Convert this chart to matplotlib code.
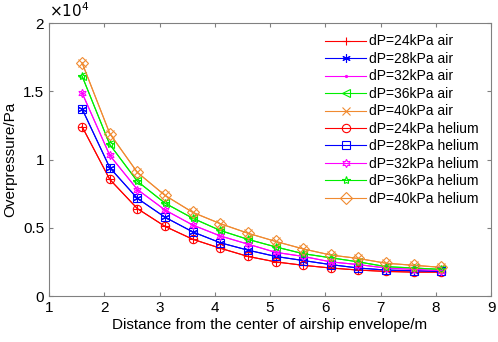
import numpy as np
import matplotlib
matplotlib.use("Agg")
import matplotlib.pyplot as plt
from matplotlib.ticker import FuncFormatter

plt.rcParams['font.family'] = ['Liberation Sans', 'DejaVu Sans']

# distance from envelope centre, m
dist = [1.6, 2.1, 2.6, 3.1, 3.6, 4.1, 4.6, 5.1, 5.6, 6.1, 6.6, 7.1, 7.6, 8.1]

# overpressure, Pa (air and helium curves sit on top of each other)
p24 = [12400, 8540, 6400, 5100, 4160, 3500, 2900, 2500, 2250, 2050, 1900, 1800, 1750, 1750]
p28 = [13700, 9400, 7150, 5770, 4700, 3900, 3360, 2900, 2600, 2300, 2050, 1900, 1850, 1800]
p32 = [14870, 10300, 7800, 6300, 5200, 4400, 3800, 3200, 2900, 2500, 2300, 2050, 1950, 1850]
p36 = [16100, 11100, 8400, 6800, 5700, 4800, 4150, 3600, 3100, 2800, 2500, 2150, 2050, 1950]
p40 = [17070, 11900, 9050, 7370, 6130, 5300, 4600, 4000, 3450, 3000, 2750, 2400, 2250, 2100]

air = {'dP=24kPa air': p24, 'dP=28kPa air': p28, 'dP=32kPa air': p32,
       'dP=36kPa air': p36, 'dP=40kPa air': p40}
helium = {'dP=24kPa helium': p24, 'dP=28kPa helium': p28, 'dP=32kPa helium': p32,
          'dP=36kPa helium': p36, 'dP=40kPa helium': p40}

colors = ['#ff0000', '#0000ff', '#ff00ff', '#00ee00', '#f08a30']
air_mk = ['+', (6, 2, 0), '.', '<', 'x']
he_mk = ['o', 's', (6, 1, 0), '*', 'D']

fig = plt.figure(figsize=(4.98, 3.42), dpi=100)
ax = fig.add_axes([0.0984, 0.1345, 0.8876, 0.7982])

for (lab, y), c, m in zip(air.items(), colors, air_mk):
    ms = 3 if m == '.' else 6
    ax.plot(dist, y, color=c, lw=0.8, marker=m, ms=ms, mew=0.8,
            mfc='none' if m == '<' else c, label=lab)
for (lab, y), c, m in zip(helium.items(), colors, he_mk):
    ax.plot(dist, y, color=c, lw=0.8, marker=m, ms=6, mew=0.8,
            mfc='none', label=lab)

ax.set_xlim(1, 9)
ax.set_ylim(0, 20000)
ax.set_xticks(range(1, 10))
ax.set_yticks([0, 5000, 10000, 15000, 20000])
ax.yaxis.set_major_formatter(FuncFormatter(lambda v, p: '%g' % (v / 1e4)))
ax.tick_params(direction='in', top=True, right=True, labelsize=11,
               color='#808080', length=3)
for s in ax.spines.values():
    s.set_color('#808080')
    s.set_linewidth(0.8)

ax.text(0, 1.01, r'$\times10^4$', transform=ax.transAxes, fontsize=11,
        ha='left', va='bottom')
ax.set_xlabel('Distance from the center of airship envelope/m', fontsize=11, labelpad=2)
ax.set_ylabel('Overpressure/Pa', fontsize=11, labelpad=4)

ax.legend(loc='upper left', bbox_to_anchor=(0.624, 0.958), frameon=False,
          fontsize=10, handlelength=3.0, handletextpad=0.2, labelspacing=0.25,
          borderpad=0, borderaxespad=0)

fig.savefig('out.png', dpi=100)
